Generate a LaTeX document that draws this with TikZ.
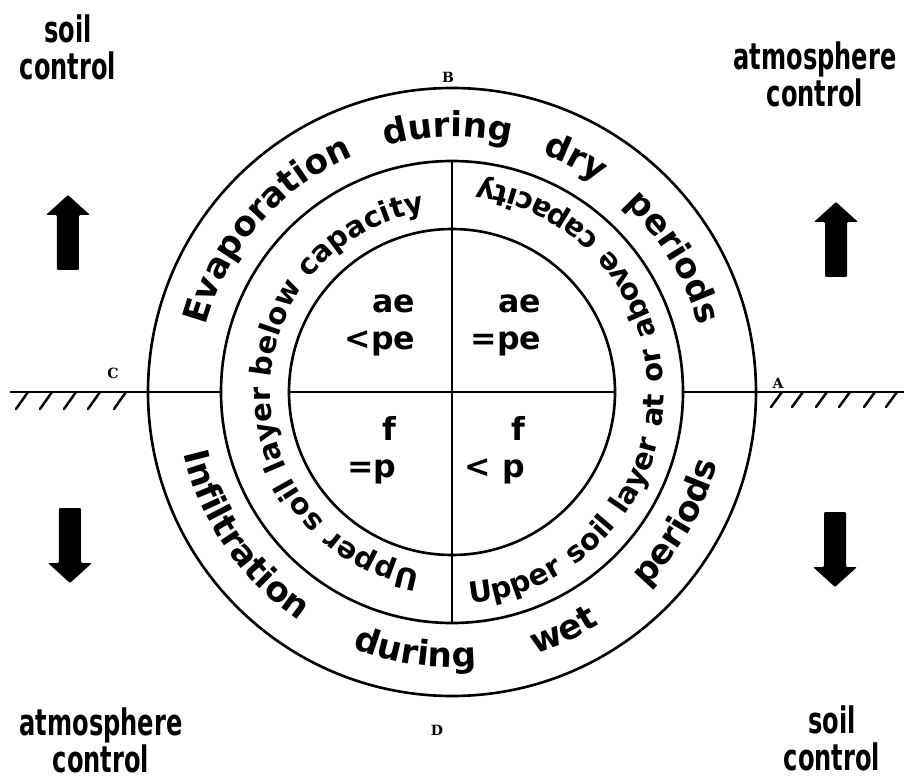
\documentclass[tikz,border=0pt]{standalone}
\usepackage{fontspec}
\setmainfont{DejaVu Sans}
\newfontfamily\narrowfont{DejaVu Sans}[FakeStretch=0.66]
\newfontfamily\letterfont{DejaVu Serif}
\usetikzlibrary{decorations.text}
\newcommand{\outerfont}{\bfseries\fontsize{19.5}{22}\selectfont}
\newcommand{\innerfont}{\bfseries\fontsize{16.5}{20}\selectfont}
\tikzset{
  ring/.style={circle,draw,line width=1.5pt,inner sep=0pt,outer sep=0pt},
  hatch/.style={line width=1.4pt,line cap=round},
  ringtext/.style={decorate,decoration={text along path,text={#1},
    text align={fit to path stretching spaces}}},
  quad/.style={align=right,font=\bfseries\fontsize{18}{21}\selectfont},
  corner/.style={align=center,font=\narrowfont\bfseries\fontsize{20.8}{21}\selectfont},
  pointlabel/.style={font=\letterfont\bfseries\fontsize{8}{9}\selectfont},
  bigup/.pic={\fill[rounded corners=0.6pt] (-0.22,0) -- (-0.22,1.1) -- (-0.44,1.1)
    -- (0,1.5) -- (0.44,1.1) -- (0.22,1.1) -- (0.22,0) -- cycle;}
}
\begin{document}
\begin{tikzpicture}[line width=1.3pt]
\useasboundingbox (-9.04,-7.78) rectangle (9.04,7.84);
\node[ring,minimum size=12.16cm] (outer) at (0,0) {};
\node[ring,minimum size=9.24cm] (middle) at (0,0) {};
\node[ring,minimum size=6.52cm] (inner) at (0,0) {};
% ground line and axes
\coordinate (gw) at (-8.84,0);
\coordinate (ge) at (9.04,0);
\draw (gw) -- (middle.west);
\draw (inner.west) -- (inner.east);
\draw (middle.east) -- (ge);
\draw (middle.north) -- (middle.south);
\foreach \x in {-8.48,-8.0,-7.52,-7.04,-6.52} \draw[hatch] (\x,0) -- ++(-0.24,-0.34);
\foreach \x in {6.6,7.02,7.5,7.96,8.46,8.9} \draw[hatch] (\x,0) -- ++(-0.22,-0.3);
% ring texts
\path[ringtext={|\outerfont|Evaporation during dry periods}]
  (165:5.1) arc[start angle=165,end angle=15,radius=5.1];
\path[ringtext={|\outerfont|Infiltration during wet periods}]
  (193:5.5) arc[start angle=193,end angle=345,radius=5.5];
\path[ringtext={|\innerfont|Upper soil layer below capacity}]
  (260:3.64) arc[start angle=260,end angle=100,radius=3.64];
\path[ringtext={|\innerfont|Upper soil layer at or above capacity}]
  (275:4.24) arc[start angle=275,end angle=443,radius=4.24];
% quadrants
\node[quad] (evlow) at (-1.44,1.34) {ae\\<pe};
\node[quad] (evpot) at (1.08,1.34) {ae\\=pe};
\node[quad] (infpot) at (-1.6,-1.16) {f\\=p};
\node[quad] (inflow) at (0.86,-1.16) {f\\< p};
% points
\node[pointlabel] (A) at (6.52,0.18) {A};
\node[pointlabel] (B) at (-0.08,6.3) {B};
\node[pointlabel] (C) at (-6.78,0.38) {C};
\node[pointlabel] (D) at (-0.3,-6.76) {D};
% controls
\node[corner] (soiltop) at (-7.68,6.9) {soil\\control};
\node[corner] (atmtop) at (7.26,6.36) {atmosphere\\control};
\node[corner] (atmbot) at (-7.02,-6.96) {atmosphere\\control};
\node[corner] (soilbot) at (7.6,-6.92) {soil\\control};
\pic at (-7.68,2.44) {bigup};
\pic at (7.68,2.3) {bigup};
\pic[rotate=180] at (-7.64,-2.32) {bigup};
\pic[rotate=180] at (7.66,-2.4) {bigup};
\end{tikzpicture}
\end{document}
